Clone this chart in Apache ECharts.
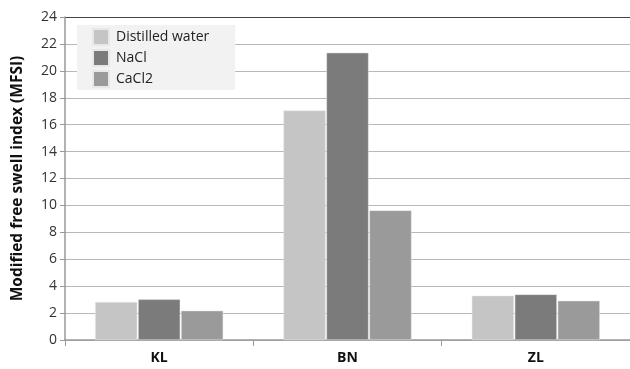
<!DOCTYPE html>
<html><head><meta charset="utf-8">
<script src="https://cdn.jsdelivr.net/npm/echarts@6/dist/echarts.min.js"></script>
<style>html,body{margin:0;padding:0;background:#fff}#c{width:630px;height:369px}</style>
</head><body><div id="c"></div>
<script>
var categories = ['KL', 'BN', 'ZL'];
var seriesNames = ['Distilled water', 'NaCl', 'CaCl2'];
var distilled = [2.82, 17.05, 3.29];
var nacl = [3.02, 21.35, 3.39];
var cacl2 = [2.18, 9.63, 2.92];
var colors = ['#c4c5c4', '#7b7b7b', '#999a99'];

var chart = echarts.init(document.getElementById('c'));
var gridColors = [];
for (var i = 0; i < 12; i++) gridColors.push('#b8b8b8');
gridColors.push('#444');
function mk(name, data, idx) {
  return {
    name: name, type: 'bar', data: data,
    barGap: '2%', barCategoryGap: '32%',
    itemStyle: { color: colors[idx], borderColor: '#e8e8e8', borderWidth: 0.5 }
  };
}
chart.setOption({
  animation: false,
  textStyle: { fontFamily: 'Open Sans' },
  grid: { left: 65, right: 0, top: 17, bottom: 29 },
  legend: {
    orient: 'vertical', left: 77, top: 25,
    backgroundColor: '#f2f2f2', padding: [3, 26, 2, 15],
    itemWidth: 16, itemHeight: 16, itemGap: 3,
    icon: 'rect',
    textStyle: { fontSize: 14, color: '#222', fontFamily: 'Open Sans', padding: [0, 0, 0, 2], lineHeight: 16 },
    data: seriesNames
  },
  xAxis: {
    type: 'category', data: categories,
    axisLine: { lineStyle: { color: '#999', width: 1.5 } },
    axisTick: { show: true, length: 6, alignWithLabel: false, lineStyle: { color: '#999' } },
    axisLabel: { fontSize: 14, fontWeight: 'bold', color: '#111', margin: 11, fontFamily: 'Open Sans' }
  },
  yAxis: {
    type: 'value', min: 0, max: 24, interval: 2,
    name: 'Modified free swell index (MFSI)', nameLocation: 'middle', nameGap: 39,
    nameTextStyle: { fontSize: 15.5, fontWeight: 'bold', color: '#111', fontFamily: 'Open Sans' },
    axisLine: { show: true, lineStyle: { color: '#999', width: 1.5 } },
    axisTick: { show: true, length: 5, lineStyle: { color: '#999' } },
    axisLabel: { fontSize: 14, color: '#333', margin: 8, fontFamily: 'Open Sans' },
    splitLine: { show: true, lineStyle: { color: gridColors, width: 1.2 } }
  },
  series: [mk(seriesNames[0], distilled, 0), mk(seriesNames[1], nacl, 1), mk(seriesNames[2], cacl2, 2)]
});
</script></body></html>
